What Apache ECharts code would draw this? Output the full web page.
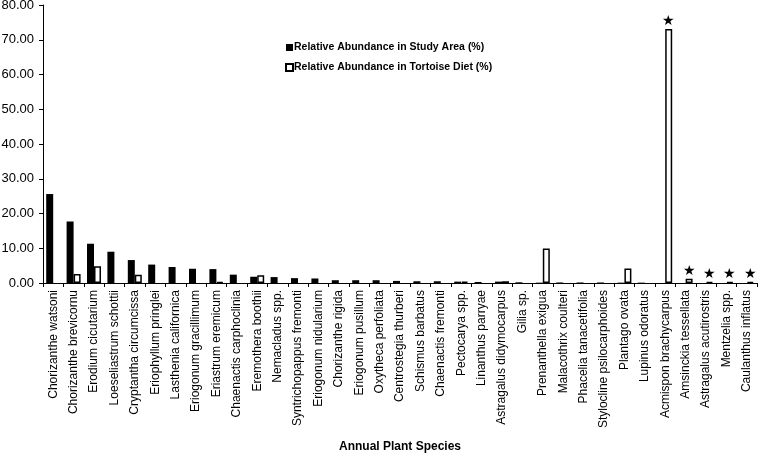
<!DOCTYPE html>
<html><head><meta charset="utf-8">
<script src="https://cdn.jsdelivr.net/npm/echarts@6/dist/echarts.min.js"></script>
<style>html,body{margin:0;padding:0;background:#fff}#c{width:759px;height:456px}</style>
</head><body><div id="c"></div>
<script>
const categories = ["Chorizanthe watsoni","Chorizanthe brevicornu","Erodium cicutarium","Loeseliastrum schottii","Cryptantha circumcissa","Eriophyllum pringlei","Lasthenia californica","Eriogonum gracillimum","Eriastrum eremicum","Chaenactis carphoclinia","Eremothera boothii","Nemacladus spp.","Syntrichopappus fremonti","Eriogonum nidularium","Chorizanthe rigida","Eriogonum pusillum","Oxytheca perfoliata","Centrostegia thurberi","Schismus barbatus","Chaenactis fremonti","Pectocarya spp.","Linanthus parryae","Astragalus didymocarpus","Gilia sp.","Prenanthella exigua","Malacothrix coulteri","Phacelia tanacetifolia","Stylocline psilocarphoides","Plantago ovata","Lupinus odoratus","Acmispon brachycarpus","Amsinckia tessellata","Astragalus acutirostris","Mentzelia spp.","Caulanthus inflatus"];
const studyArea = [25.6,17.7,11.3,9.0,6.6,5.3,4.6,4.1,4.0,2.4,1.8,1.7,1.4,1.3,0.8,0.8,0.8,0.6,0.5,0.5,0.4,0.3,0.4,0.2,0.1,0.15,0.15,0.15,0.1,0.1,0,0,0,0,0];
const tortoiseDiet = [0,2.6,4.8,0,2.4,0,0,0,0.3,0,2.2,0,0,0,0,0,0,0,0,0,0.4,0,0.5,0,9.9,0,0,0,4.2,0,73.1,1.2,0.3,0.3,0.3];
const starred = ["Acmispon brachycarpus","Amsinckia tessellata","Astragalus acutirostris","Mentzelia spp.","Caulanthus inflatus"];
const yTicks = {min:0, max:80, interval:10};

const F = "Liberation Sans, Arial, sans-serif";
const chart = echarts.init(document.getElementById('c'), null, {renderer:'canvas'});
const blackData = studyArea.map(v => v === 0 ? '-' : v);
const whiteData = tortoiseDiet.map((v,i) => {
  const item = {value: v === 0 ? '-' : v};
  if (starred.includes(categories[i])) {
    item.label = {show:true, formatter:'★', position:'top', distance:1, fontSize:14, color:'#000', fontFamily:F};
  }
  return item;
});
chart.setOption({
  animation:false,
  backgroundColor:'#fff',
  grid:{left:43, right:2, top:5, bottom:173, containLabel:false, outerBoundsMode:'none'},
  legend:{
    orient:'vertical', left:280, top:37, itemGap:9, itemWidth:7, itemHeight:7,
    textStyle:{fontFamily:F, fontSize:10.5, fontWeight:'bold', color:'#000', padding:[0,0,0,-4]},
    data:[
      {name:'Relative Abundance in Study Area (%)', icon:'rect'},
      {name:'Relative Abundance in Tortoise Diet (%)', icon:'rect'}
    ]
  },
  xAxis:{
    type:'category', data:categories,
    name:'Annual Plant Species', nameLocation:'middle', nameGap:158,
    nameTextStyle:{fontFamily:F, fontSize:12, fontWeight:'bold', color:'#000'},
    axisLine:{lineStyle:{color:'#000', width:1}},
    axisTick:{show:true, length:4, alignWithLabel:false, lineStyle:{color:'#000'}},
    axisLabel:{rotate:90, interval:0, fontFamily:F, fontSize:12, color:'#000', margin:7},
    splitLine:{show:false}
  },
  yAxis:{
    type:'value', min:yTicks.min, max:yTicks.max, interval:yTicks.interval,
    axisLine:{show:true, lineStyle:{color:'#000', width:1}},
    axisTick:{show:true, length:4, lineStyle:{color:'#000'}},
    axisLabel:{fontFamily:F, fontSize:13, color:'#000', margin:9, align:'right',
      formatter:v => v.toFixed(2)},
    splitLine:{show:false}
  },
  series:[
    {name:'Relative Abundance in Study Area (%)', type:'bar', data:blackData,
     barWidth:7, barGap:'0%', itemStyle:{color:'#000'}},
    {name:'Relative Abundance in Tortoise Diet (%)', type:'bar', data:whiteData,
     barWidth:7, barGap:'0%', itemStyle:{color:'#fff', borderColor:'#000', borderWidth:1.5}}
  ]
});
</script></body></html>
